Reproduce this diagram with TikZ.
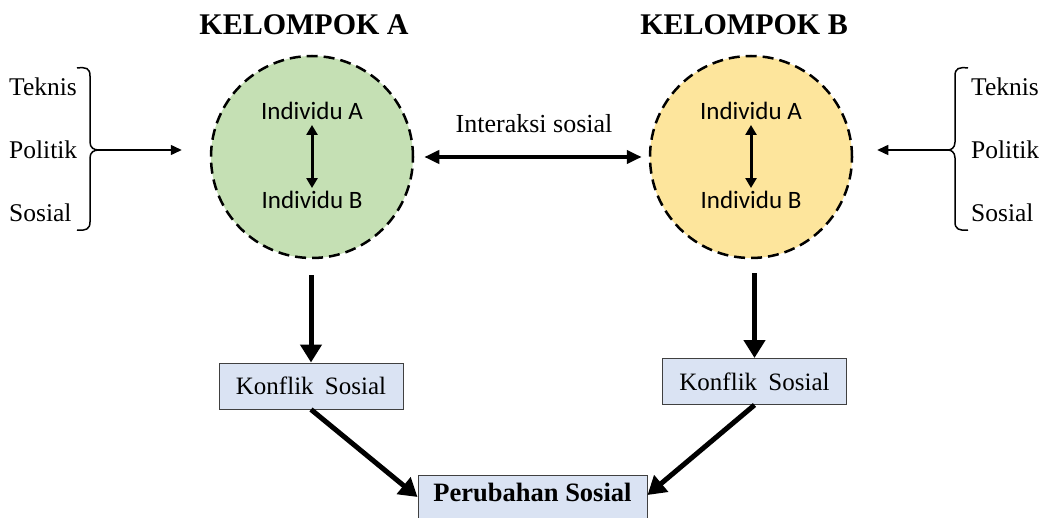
\documentclass[tikz,border=0pt]{standalone}
\usepackage{fontspec}
\setmainfont{Liberation Serif}
\newfontfamily\calfont{Carlito}
\usetikzlibrary{arrows.meta,calc}
\definecolor{grn}{HTML}{C5E0B4}
\definecolor{ylw}{HTML}{FDE59C}
\definecolor{bxfill}{HTML}{DAE3F3}
\definecolor{bxline}{HTML}{404040}
\tikzset{
  grp/.style={circle, draw=black, line width=2.5pt, dash pattern=on 11pt off 6pt, minimum size=202pt, inner sep=0pt},
  indiv/.style={font=\calfont\fontsize{25}{28}\selectfont, inner sep=1pt},
  title/.style={font=\bfseries\fontsize{30}{34}\selectfont},
  side/.style={font=\fontsize{25.5}{28}\selectfont, inner sep=0pt},
  kbox/.style={draw=bxline, fill=bxfill, line width=1pt, minimum width=184pt, minimum height=46pt, inner sep=0pt, font=\fontsize{25}{28}\selectfont},
  bigarrow/.style={line width=5pt, -{Triangle[length=18pt,width=21pt]}},
  midarrow/.style={line width=4pt, {Triangle[length=15pt,width=13pt]}-{Triangle[length=15pt,width=13pt]}},
  smallarrow/.style={line width=3pt, {Triangle[length=10pt,width=11pt]}-{Triangle[length=10pt,width=11pt]}},
  thinarrow/.style={line width=1.5pt, -{Triangle[length=11pt,width=10pt]}},
  brace/.style={line width=1.5pt}
}
\begin{document}
\begin{tikzpicture}[x=1pt,y=-1pt]
\useasboundingbox (0,0) rectangle (1046,518);
% titles
\node[title] (tA) at (304,25) {KELOMPOK A};
\node[title] (tB) at (744,25) {KELOMPOK B};
% circles
\node[grp, fill=grn] (circA) at (312,157) {};
\node[grp, fill=ylw] (circB) at (751,157) {};
\node[indiv] (aA) at (312,111) {Individu A};
\node[indiv] (aB) at (312,200) {Individu B};
\node[indiv] (bA) at (751,111) {Individu A};
\node[indiv] (bB) at (751,200) {Individu B};
\draw[smallarrow, shorten <=4pt, shorten >=2pt] (aA.south) -- (aB.north);
\draw[smallarrow, shorten <=4pt, shorten >=2pt] (bA.south) -- (bB.north);
% interaction
\node[side, font=\fontsize{26}{28}\selectfont] (inter) at (534,124) {Interaksi sosial};
\draw[midarrow, shorten <=10pt, shorten >=7pt] (circA.east) -- (circB.west);
% left side
\node[side, anchor=west] (lT) at (9,87) {Teknis};
\node[side, anchor=west] (lP) at (9,150) {Politik};
\node[side, anchor=west] (lS) at (9,213) {Sosial};
\coordinate (lTip) at (99,150);
\draw[brace] (77,68) .. controls (86,67) and (90,68) .. (90,76) -- (90,142) .. controls (90,148) and (94,150) .. (lTip)
  .. controls (94,150) and (90,152) .. (90,158) -- (90,222) .. controls (90,229) and (86,231) .. (77,230);
\draw[thinarrow, shorten >=28pt] (lTip) -- (lTip -| circA.west);
% right side
\node[side, anchor=west] (rT) at (971,87) {Teknis};
\node[side, anchor=west] (rP) at (971,150) {Politik};
\node[side, anchor=west] (rS) at (971,213) {Sosial};
\coordinate (rTip) at (948,150);
\draw[brace] (968,68) .. controls (959,67) and (955,68) .. (955,76) -- (955,142) .. controls (955,148) and (951,150) .. (rTip)
  .. controls (951,150) and (955,152) .. (955,158) -- (955,222) .. controls (955,229) and (959,231) .. (968,230);
\draw[thinarrow, shorten >=24pt] (rTip) -- (rTip -| circB.east);
% boxes
\node[kbox] (boxA) at (311,386) {Konflik\hspace{0.45em}Sosial};
\node[kbox] (boxB) at (754.5,381.5) {Konflik\hspace{0.45em}Sosial};
\node[draw=bxline, fill=bxfill, line width=1pt, minimum width=229pt, minimum height=60pt, inner sep=0pt] (boxP) at (532.5,505) {};
\node[font=\bfseries\fontsize{26.5}{30}\selectfont] (pText) at (532.5,492) {Perubahan Sosial};
% arrows down
\draw[bigarrow] ([yshift=-16pt]circA.south -| boxA.north) -- (boxA.north);
\draw[bigarrow] ([yshift=-14pt]circB.south -| boxB.north) -- (boxB.north);
\draw[bigarrow] (boxA.south) -- ([yshift=8pt]boxP.west);
\draw[bigarrow] (boxB.south) -- ([yshift=10pt]boxP.east);
\end{tikzpicture}
\end{document}
